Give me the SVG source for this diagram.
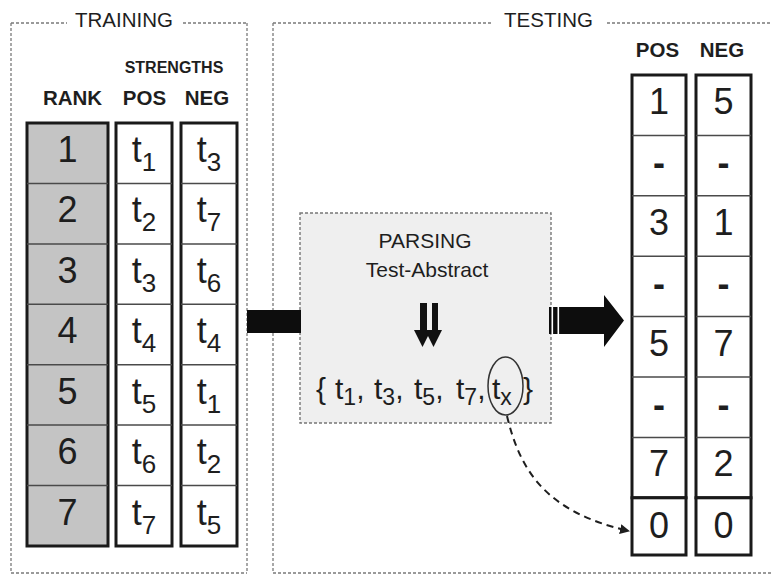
<svg xmlns="http://www.w3.org/2000/svg" width="771" height="576" viewBox="0 0 771 576">
  <defs>
    <style>
      text { font-family: "Liberation Sans", Arial, sans-serif; fill: #1e1e1e; }
      .title { font-size: 20.5px; text-anchor: middle; }
      .head { font-size: 20.5px; font-weight: bold; text-anchor: middle; }
      .small { font-size: 16px; font-weight: bold; text-anchor: middle; }
      .cell { font-size: 36px; text-anchor: middle; }
      .dash { font-size: 36px; font-weight: bold; text-anchor: middle; }
      .sub { font-size: 26px; }
      .frame { fill: none; stroke: #7a7a7a; stroke-width: 1.3; stroke-dasharray: 3 2; }
      .col { fill: #ffffff; stroke: #1a1a1a; stroke-width: 3; }
      .rank { fill: #c4c4c4; stroke: #1a1a1a; stroke-width: 3; }
      .sep { stroke: #4a4a4a; stroke-width: 1.5; }
      .box { fill: #efefef; stroke: #777; stroke-width: 1.4; stroke-dasharray: 3 2; }
      .set { font-size: 30px; }
      .setsub { font-size: 23px; }
      .lbl { font-size: 21px; text-anchor: middle; }
    </style>
    <marker id="tip" viewBox="0 0 10 10" refX="9" refY="5" markerWidth="5" markerHeight="5" orient="auto" markerUnits="strokeWidth">
      <path d="M0,0 L10,5 L0,10 z" fill="#1e1e1e"/>
    </marker>
  </defs>

  <rect width="771" height="576" fill="#ffffff"/>

  <!-- TRAINING frame -->
  <g id="frame-training">
    <line class="frame" x1="11" y1="23" x2="67" y2="23"/>
    <line class="frame" x1="183" y1="23" x2="247" y2="23"/>
    <line class="frame" x1="11" y1="23" x2="11" y2="573"/>
    <line class="frame" x1="247" y1="23" x2="247" y2="573"/>
    <line class="frame" x1="11" y1="573" x2="247" y2="573"/>
    <text class="title" x="124" y="27">TRAINING</text>
  </g>

  <!-- TESTING frame -->
  <g id="frame-testing">
    <line class="frame" x1="273" y1="23" x2="493" y2="23"/>
    <line class="frame" x1="607" y1="23" x2="771" y2="23"/>
    <line class="frame" x1="273" y1="23" x2="273" y2="573"/>
    <line class="frame" x1="273" y1="573" x2="771" y2="573"/>
    <text class="title" x="548.5" y="27">TESTING</text>
  </g>

  <!-- training headers -->
  <g id="train-headers">
    <text class="small" x="174" y="73">STRENGTHS</text>
    <text class="head" x="72.5" y="105">RANK</text>
    <text class="head" x="144.5" y="105">POS</text>
    <text class="head" x="207" y="105">NEG</text>
  </g>

  <!-- rank column -->
  <g id="rank-column">
    <rect class="rank" x="27" y="123" width="81" height="423"/>
    <line class="sep" x1="27" y1="183.4" x2="108" y2="183.4"/>
    <line class="sep" x1="27" y1="243.9" x2="108" y2="243.9"/>
    <line class="sep" x1="27" y1="304.3" x2="108" y2="304.3"/>
    <line class="sep" x1="27" y1="364.7" x2="108" y2="364.7"/>
    <line class="sep" x1="27" y1="425.1" x2="108" y2="425.1"/>
    <line class="sep" x1="27" y1="485.6" x2="108" y2="485.6"/>
    <text class="cell" x="67.5" y="162">1</text>
    <text class="cell" x="67.5" y="222.4">2</text>
    <text class="cell" x="67.5" y="282.9">3</text>
    <text class="cell" x="67.5" y="343.3">4</text>
    <text class="cell" x="67.5" y="403.7">5</text>
    <text class="cell" x="67.5" y="464.1">6</text>
    <text class="cell" x="67.5" y="524.6">7</text>
  </g>

  <!-- positive strengths column -->
  <g id="pos-column">
    <rect class="col" x="116" y="123" width="56" height="423"/>
    <line class="sep" x1="116" y1="183.4" x2="172" y2="183.4"/>
    <line class="sep" x1="116" y1="243.9" x2="172" y2="243.9"/>
    <line class="sep" x1="116" y1="304.3" x2="172" y2="304.3"/>
    <line class="sep" x1="116" y1="364.7" x2="172" y2="364.7"/>
    <line class="sep" x1="116" y1="425.1" x2="172" y2="425.1"/>
    <line class="sep" x1="116" y1="485.6" x2="172" y2="485.6"/>
    <text class="cell" x="144" y="162">t<tspan class="sub" dy="9">1</tspan></text>
    <text class="cell" x="144" y="222.4">t<tspan class="sub" dy="9">2</tspan></text>
    <text class="cell" x="144" y="282.9">t<tspan class="sub" dy="9">3</tspan></text>
    <text class="cell" x="144" y="343.3">t<tspan class="sub" dy="9">4</tspan></text>
    <text class="cell" x="144" y="403.7">t<tspan class="sub" dy="9">5</tspan></text>
    <text class="cell" x="144" y="464.1">t<tspan class="sub" dy="9">6</tspan></text>
    <text class="cell" x="144" y="524.6">t<tspan class="sub" dy="9">7</tspan></text>
  </g>

  <!-- negative strengths column -->
  <g id="neg-column">
    <rect class="col" x="181" y="123" width="56" height="423"/>
    <line class="sep" x1="181" y1="183.4" x2="237" y2="183.4"/>
    <line class="sep" x1="181" y1="243.9" x2="237" y2="243.9"/>
    <line class="sep" x1="181" y1="304.3" x2="237" y2="304.3"/>
    <line class="sep" x1="181" y1="364.7" x2="237" y2="364.7"/>
    <line class="sep" x1="181" y1="425.1" x2="237" y2="425.1"/>
    <line class="sep" x1="181" y1="485.6" x2="237" y2="485.6"/>
    <text class="cell" x="209" y="162">t<tspan class="sub" dy="9">3</tspan></text>
    <text class="cell" x="209" y="222.4">t<tspan class="sub" dy="9">7</tspan></text>
    <text class="cell" x="209" y="282.9">t<tspan class="sub" dy="9">6</tspan></text>
    <text class="cell" x="209" y="343.3">t<tspan class="sub" dy="9">4</tspan></text>
    <text class="cell" x="209" y="403.7">t<tspan class="sub" dy="9">1</tspan></text>
    <text class="cell" x="209" y="464.1">t<tspan class="sub" dy="9">2</tspan></text>
    <text class="cell" x="209" y="524.6">t<tspan class="sub" dy="9">5</tspan></text>
  </g>

  <!-- parsing box -->
  <g id="parse-box">
    <rect class="box" x="300" y="213" width="251" height="210"/>
    <text class="lbl" x="425" y="248">PARSING</text>
    <text class="lbl" x="427" y="277">Test-Abstract</text>
    <!-- double down arrow -->
    <path d="M420,303 H427 V330 H431 L422.5,347 L414,330 H420 Z" fill="#111"/>
    <path d="M432,303 H438 V330 H442 L433.5,347 L425,330 H432 Z" fill="#111"/>
    <text class="set" y="399"><tspan x="316">{</tspan><tspan x="335">t</tspan><tspan class="setsub" dy="6">1</tspan><tspan dy="-6">,</tspan><tspan x="374">t</tspan><tspan class="setsub" dy="6">3</tspan><tspan dy="-6">,</tspan><tspan x="414">t</tspan><tspan class="setsub" dy="6">5</tspan><tspan dy="-6">,</tspan><tspan x="456">t</tspan><tspan class="setsub" dy="6">7</tspan><tspan dy="-6">,</tspan><tspan x="492">t</tspan><tspan class="setsub" dy="6">x</tspan><tspan x="523" dy="-6">}</tspan></text>
    <ellipse cx="505.5" cy="386" rx="17.5" ry="29" fill="none" stroke="#333" stroke-width="1.5"/>
  </g>

  <!-- test table headers -->
  <g id="test-headers">
    <text class="head" x="657.5" y="57">POS</text>
    <text class="head" x="722" y="57">NEG</text>
  </g>

  <!-- test POS column -->
  <g id="test-pos">
    <rect class="col" x="632" y="75" width="54" height="422.8"/>
    <line class="sep" x1="632" y1="135.4" x2="686" y2="135.4"/>
    <line class="sep" x1="632" y1="195.8" x2="686" y2="195.8"/>
    <line class="sep" x1="632" y1="256.2" x2="686" y2="256.2"/>
    <line class="sep" x1="632" y1="316.6" x2="686" y2="316.6"/>
    <line class="sep" x1="632" y1="377" x2="686" y2="377"/>
    <line class="sep" x1="632" y1="437.4" x2="686" y2="437.4"/>
    <rect class="col" x="632" y="497.8" width="54" height="57.2"/>
    <text class="cell" x="659" y="114">1</text>
    <text class="dash" x="659" y="175.4">-</text>
    <text class="cell" x="659" y="234.8">3</text>
    <text class="dash" x="659" y="296.2">-</text>
    <text class="cell" x="659" y="355.6">5</text>
    <text class="dash" x="659" y="417">-</text>
    <text class="cell" x="659" y="476.4">7</text>
    <text class="cell" x="659" y="538">0</text>
  </g>

  <!-- test NEG column -->
  <g id="test-neg">
    <rect class="col" x="696" y="75" width="55" height="422.8"/>
    <line class="sep" x1="696" y1="135.4" x2="751" y2="135.4"/>
    <line class="sep" x1="696" y1="195.8" x2="751" y2="195.8"/>
    <line class="sep" x1="696" y1="256.2" x2="751" y2="256.2"/>
    <line class="sep" x1="696" y1="316.6" x2="751" y2="316.6"/>
    <line class="sep" x1="696" y1="377" x2="751" y2="377"/>
    <line class="sep" x1="696" y1="437.4" x2="751" y2="437.4"/>
    <rect class="col" x="696" y="497.8" width="55" height="57.2"/>
    <text class="cell" x="723.5" y="114">5</text>
    <text class="dash" x="723.5" y="175.4">-</text>
    <text class="cell" x="723.5" y="234.8">1</text>
    <text class="dash" x="723.5" y="296.2">-</text>
    <text class="cell" x="723.5" y="355.6">7</text>
    <text class="dash" x="723.5" y="417">-</text>
    <text class="cell" x="723.5" y="476.4">2</text>
    <text class="cell" x="723.5" y="538">0</text>
  </g>

  <!-- connectors -->
  <g id="connectors">
    <!-- bar from training into the parsing box -->
    <rect x="247" y="310" width="54" height="23" fill="#0d0d0d"/>
    <!-- block arrow from the parsing box to the test table -->
    <path d="M549,307 H604 V295 L624,320.5 L604,347 V334 H549 Z" fill="#0d0d0d"/>
    <rect x="551.5" y="306" width="1.6" height="29" fill="#ffffff"/>
    <rect x="557.5" y="306" width="1.6" height="29" fill="#ffffff"/>
    <!-- unknown term goes to the zero row -->
    <path d="M507,416 C520,470 545,512 629,531" fill="none" stroke="#1e1e1e" stroke-width="2" stroke-dasharray="7 5" marker-end="url(#tip)"/>
  </g>
</svg>
